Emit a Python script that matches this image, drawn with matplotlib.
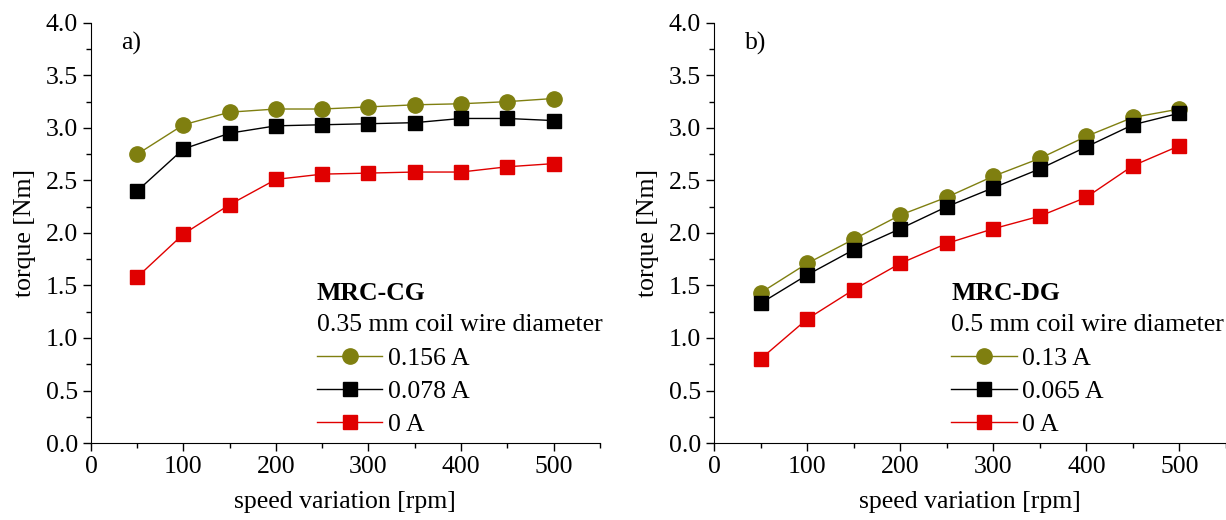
import matplotlib.pyplot as plt
from matplotlib.ticker import MultipleLocator

plt.rcParams['font.family'] = ['Liberation Serif', 'DejaVu Serif']
plt.rcParams['font.size'] = 18.5

speed = [50, 100, 150, 200, 250, 300, 350, 400, 450, 500]

# panel a) MRC-CG
cg_high = [2.75, 3.03, 3.15, 3.18, 3.18, 3.20, 3.22, 3.23, 3.25, 3.28]
cg_mid = [2.40, 2.80, 2.95, 3.02, 3.03, 3.04, 3.05, 3.09, 3.09, 3.07]
cg_zero = [1.58, 1.99, 2.27, 2.51, 2.56, 2.57, 2.58, 2.58, 2.63, 2.66]
cg_labels = ['0.156 A', '0.078 A', '0 A']

# panel b) MRC-DG
dg_high = [1.43, 1.71, 1.94, 2.17, 2.34, 2.54, 2.71, 2.92, 3.10, 3.18]
dg_mid = [1.33, 1.60, 1.84, 2.04, 2.25, 2.43, 2.61, 2.82, 3.03, 3.14]
dg_zero = [0.80, 1.18, 1.46, 1.71, 1.90, 2.04, 2.16, 2.34, 2.64, 2.83]
dg_labels = ['0.13 A', '0.065 A', '0 A']

olive = '#7f7f10'
red = '#e00000'

fig = plt.figure(figsize=(12.26, 5.2), dpi=100)
ax1 = fig.add_axes([0.0742, 0.148, 0.415, 0.808])
ax2 = fig.add_axes([0.5824, 0.148, 0.4176, 0.808])


def draw(ax, series, labels, tag, name, wire, lx):
    styles = [(olive, 'o', 11), ('black', 's', 9.5), (red, 's', 9.5)]
    handles = []
    for vals, (c, m, ms), lab in zip(series, styles, labels):
        h, = ax.plot(speed, vals, color=c, marker=m, markersize=ms, lw=1,
                     markerfacecolor=c, markeredgecolor=c, label=lab)
        handles.append(h)
    ax.set_xlim(0, 550)
    ax.set_ylim(0, 4.0)
    ax.xaxis.set_major_locator(MultipleLocator(100))
    ax.xaxis.set_minor_locator(MultipleLocator(50))
    ax.yaxis.set_major_locator(MultipleLocator(0.5))
    ax.yaxis.set_minor_locator(MultipleLocator(0.25))
    ax.yaxis.set_major_formatter(plt.FormatStrFormatter('%.1f'))
    ax.spines['top'].set_visible(False)
    ax.spines['right'].set_visible(False)
    ax.tick_params(which='major', direction='out', length=6, width=1)
    ax.tick_params(which='minor', direction='out', length=3.5, width=1)
    ax.set_xlabel('speed variation [rpm]', labelpad=9)
    ax.set_ylabel('torque [Nm]', labelpad=7)
    ax.text(0.06, 0.95, tag, transform=ax.transAxes, va='center', ha='left')
    ax.text(lx, 0.357, name, transform=ax.transAxes, va='center', ha='left',
            fontweight='bold')
    ax.text(lx, 0.281, wire, transform=ax.transAxes, va='center', ha='left')
    ax.legend(handles=handles, loc='upper left', bbox_to_anchor=(lx, 0.228),
              frameon=False, borderpad=0, borderaxespad=0, handlelength=2.55,
              handletextpad=0.2, labelspacing=0.39)


draw(ax1, [cg_high, cg_mid, cg_zero], cg_labels, 'a)', 'MRC-CG',
     '0.35 mm coil wire diameter', 0.444)
draw(ax2, [dg_high, dg_mid, dg_zero], dg_labels, 'b)', 'MRC-DG',
     '0.5 mm coil wire diameter', 0.463)

fig.savefig('out.png', dpi=100)
